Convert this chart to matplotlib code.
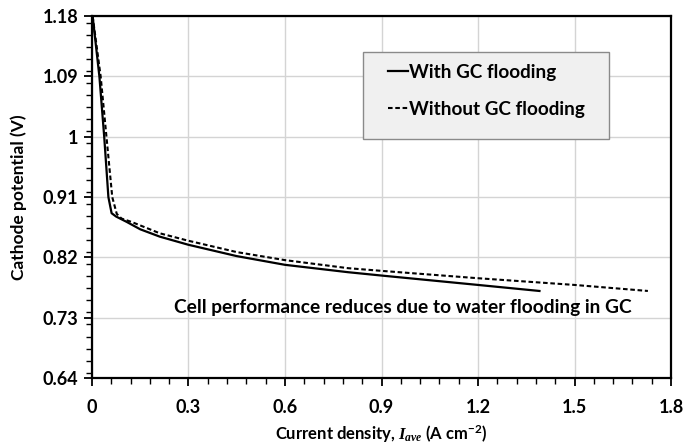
import matplotlib
matplotlib.use("Agg")
import matplotlib.pyplot as plt
from matplotlib.patches import Rectangle
from matplotlib.ticker import MultipleLocator, FuncFormatter

# Polarisation curves: cathode potential vs average current density
with_gc_x = [0.002, 0.023, 0.038, 0.051, 0.061, 0.075, 0.108, 0.150, 0.211,
             0.299, 0.450, 0.600, 0.796, 0.900, 1.050, 1.200, 1.391]
with_gc_y = [1.180, 1.090, 1.000, 0.910, 0.886, 0.881, 0.873, 0.862, 0.851,
             0.839, 0.822, 0.809, 0.798, 0.793, 0.786, 0.779, 0.770]

without_gc_x = [0.002, 0.027, 0.045, 0.063, 0.077, 0.092, 0.123, 0.211, 0.299,
                0.450, 0.600, 0.796, 0.900, 1.200, 1.500, 1.728]
without_gc_y = [1.180, 1.090, 1.000, 0.910, 0.885, 0.878, 0.873, 0.856, 0.845,
                0.828, 0.816, 0.804, 0.800, 0.789, 0.779, 0.770]

x_ticks = [0, 0.3, 0.6, 0.9, 1.2, 1.5, 1.8]
y_ticks = [0.64, 0.73, 0.82, 0.91, 1.0, 1.09, 1.18]

plt.rcParams['font.family'] = ['Lato', 'DejaVu Sans']
plt.rcParams['font.weight'] = 'bold'
plt.rcParams['mathtext.fontset'] = 'custom'
plt.rcParams['mathtext.it'] = 'Liberation Serif:italic'
plt.rcParams['mathtext.rm'] = 'Lato:bold'
plt.rcParams['mathtext.bf'] = 'Lato:bold'

fig = plt.figure(figsize=(6.99, 4.48), dpi=100)
ax = fig.add_axes([0.1316, 0.156, 0.8284, 0.808])

ax.plot(with_gc_x, with_gc_y, color='black', lw=1.6, label='With GC flooding', zorder=3)
ax.plot(without_gc_x, without_gc_y, color='black', lw=1.5, dashes=(2.2, 1.3),
        label='Without GC flooding', zorder=3)

ax.set_xlim(0, 1.8)
ax.set_ylim(0.64, 1.18)
ax.set_xticks(x_ticks)
ax.set_yticks(y_ticks)
ax.xaxis.set_minor_locator(MultipleLocator(0.06))
ax.yaxis.set_minor_locator(MultipleLocator(0.018))
ax.xaxis.set_major_formatter(FuncFormatter(lambda v, p: f"{round(v, 2):g}"))
ax.yaxis.set_major_formatter(FuncFormatter(lambda v, p: f"{round(v, 2):g}"))

ax.grid(True, which='major', color='#d4d4d4', lw=1.0, zorder=0)
ax.set_axisbelow(True)
for s in ax.spines.values():
    s.set_linewidth(1.6)
    s.set_color('black')

ax.tick_params(axis='both', which='major', direction='out', length=6, width=1.3,
               labelsize=13)
ax.tick_params(axis='y', which='major', pad=4)
ax.tick_params(axis='x', which='major', pad=9)
ax.tick_params(axis='both', which='minor', direction='out', length=4, width=1.0)
for lbl in ax.get_xticklabels() + ax.get_yticklabels():
    lbl.set_fontweight('bold')

ax.set_ylabel('Cathode potential (V)', fontsize=12.5, fontweight='bold')
ax.set_xlabel(r'Current density, $I_{ave}$ (A cm$^{\mathrm{-2}}$)', fontsize=12,
              fontweight='bold')
ax.yaxis.set_label_coords(-0.112, 0.5)
ax.xaxis.set_label_coords(0.5, -0.125)

ax.text(0.255, 0.746, 'Cell performance reduces due to water flooding in GC',
        fontsize=13.8, fontweight='bold', ha='left', va='center', zorder=4)

# Legend panel
ax.add_patch(Rectangle((0.468, 0.660), 0.425, 0.2406, transform=ax.transAxes,
                       facecolor='#f0f0f0', edgecolor='#8a8a8a', lw=1.0, zorder=4))
leg = ax.legend(loc='upper left', bbox_to_anchor=(0.511, 0.868), frameon=False,
                borderpad=0, borderaxespad=0, handlelength=1.05, handletextpad=0.05,
                labelspacing=1.05, prop={'size': 13.6, 'weight': 'bold'})
leg.set_zorder(5)

fig.savefig('out.png', dpi=100)
